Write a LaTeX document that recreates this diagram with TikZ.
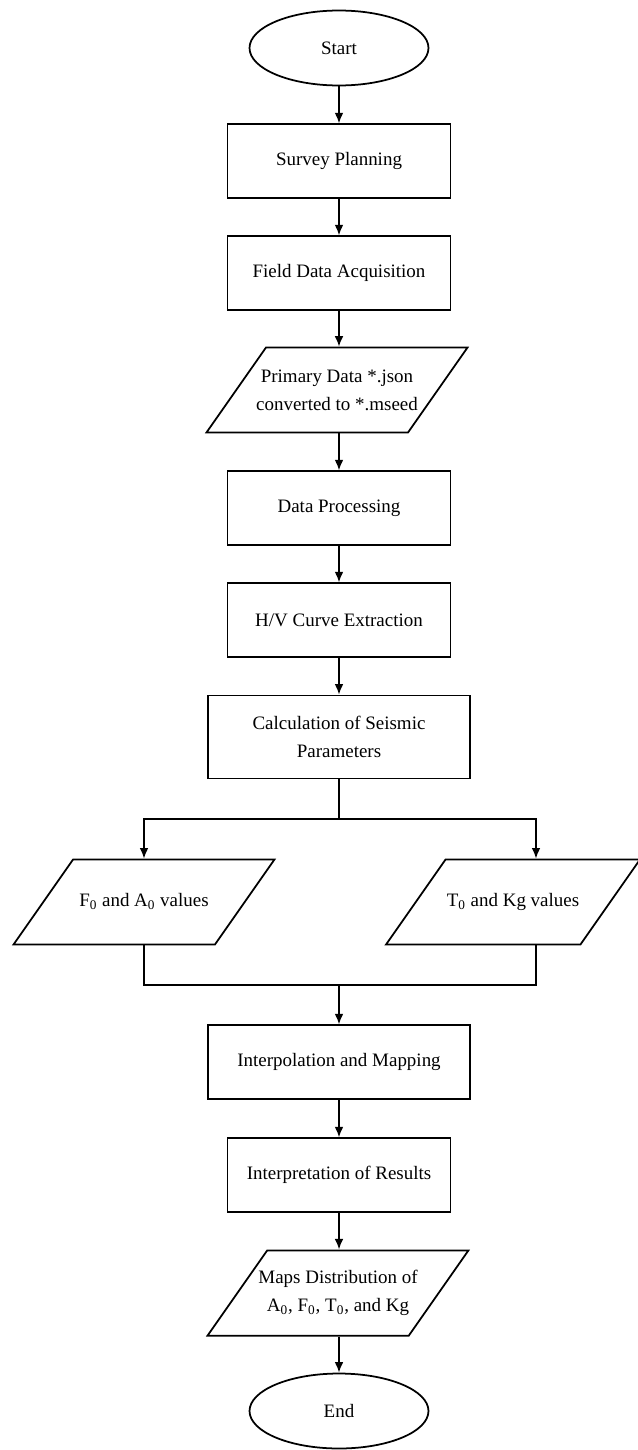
\documentclass[tikz,border=0pt]{standalone}
\usepackage{fontspec}
\setmainfont{Liberation Serif}
\usetikzlibrary{shapes,arrows.meta}

\begin{document}
\begin{tikzpicture}[x=0.02cm,y=-0.02cm]
\tikzstyle{every node}=[draw,line width=1pt,align=center,font=\fontsize{10.8}{16}\selectfont]
\tikzstyle{term}=[ellipse,minimum width=3.58cm,minimum height=1.5cm]
\tikzstyle{proc}=[rectangle,minimum width=4.46cm,minimum height=1.47cm]
\tikzstyle{wideproc}=[rectangle,minimum width=5.24cm,minimum height=1.47cm]
\tikzstyle{io}=[trapezium,trapezium left angle=55,trapezium right angle=125,trapezium stretches body=true,minimum width=5.22cm,inner xsep=-6.8pt,inner ysep=12pt]
\tikzstyle{ioone}=[io,text height=7.5pt,text depth=2.5pt,inner ysep=19.2pt]
\tikzstyle{line}=[draw,line width=1pt,-{Latex[length=6pt,width=5pt]}]
\useasboundingbox (0,0) rectangle (637,1450);
\node[term] (start) at (339,48) {Start};
\node[proc] (survey) at (339,161) {Survey Planning};
\node[proc] (field) at (339,273) {Field Data Acquisition};
\node[io,inner ysep=12.5pt] (primary) at (337,390) {Primary Data *.json\\converted to *.mseed};
\node[proc] (process) at (339,508) {Data Processing};
\node[proc] (hv) at (339,620) {H/V Curve Extraction};
\node[wideproc,minimum height=1.66cm] (calc) at (339,737) {Calculation of Seismic\\Parameters};
\node[ioone] (f0) at (144,902) {F\textsubscript{0} and A\textsubscript{0} values};
\node[ioone,minimum width=5.08cm] (t0) at (513,902) {T\textsubscript{0} and Kg values};
\node[wideproc] (interp) at (339,1062) {Interpolation and Mapping};
\node[proc] (result) at (339,1175) {Interpretation of Results};
\node[io,inner ysep=11.3pt] (maps) at (338,1293) {Maps Distribution of\\A\textsubscript{0}, F\textsubscript{0}, T\textsubscript{0}, and Kg};
\node[term] (end) at (339,1411) {End};
\coordinate (split) at (339,819);
\coordinate (merge) at (339,985);
\path[line] (start) -- (survey);
\path[line] (survey) -- (field);
\path[line] (field) -- (field |- primary.north);
\path[line] (primary.south -| process) -- (process);
\path[line] (process) -- (hv);
\path[line] (hv) -- (calc);
\draw[line width=1pt] (calc) -- (split);
\path[line] (split) -| (f0);
\path[line] (split) -| ([xshift=0.46cm]t0.north);
\draw[line width=1pt] (f0.south) |- (merge) -| ([xshift=0.46cm]t0.south);
\path[line] (merge) -- (interp);
\path[line] (interp) -- (result);
\path[line] (result) -- (result |- maps.north);
\path[line] (maps.south -| end) -- (end);
\end{tikzpicture}
\end{document}
